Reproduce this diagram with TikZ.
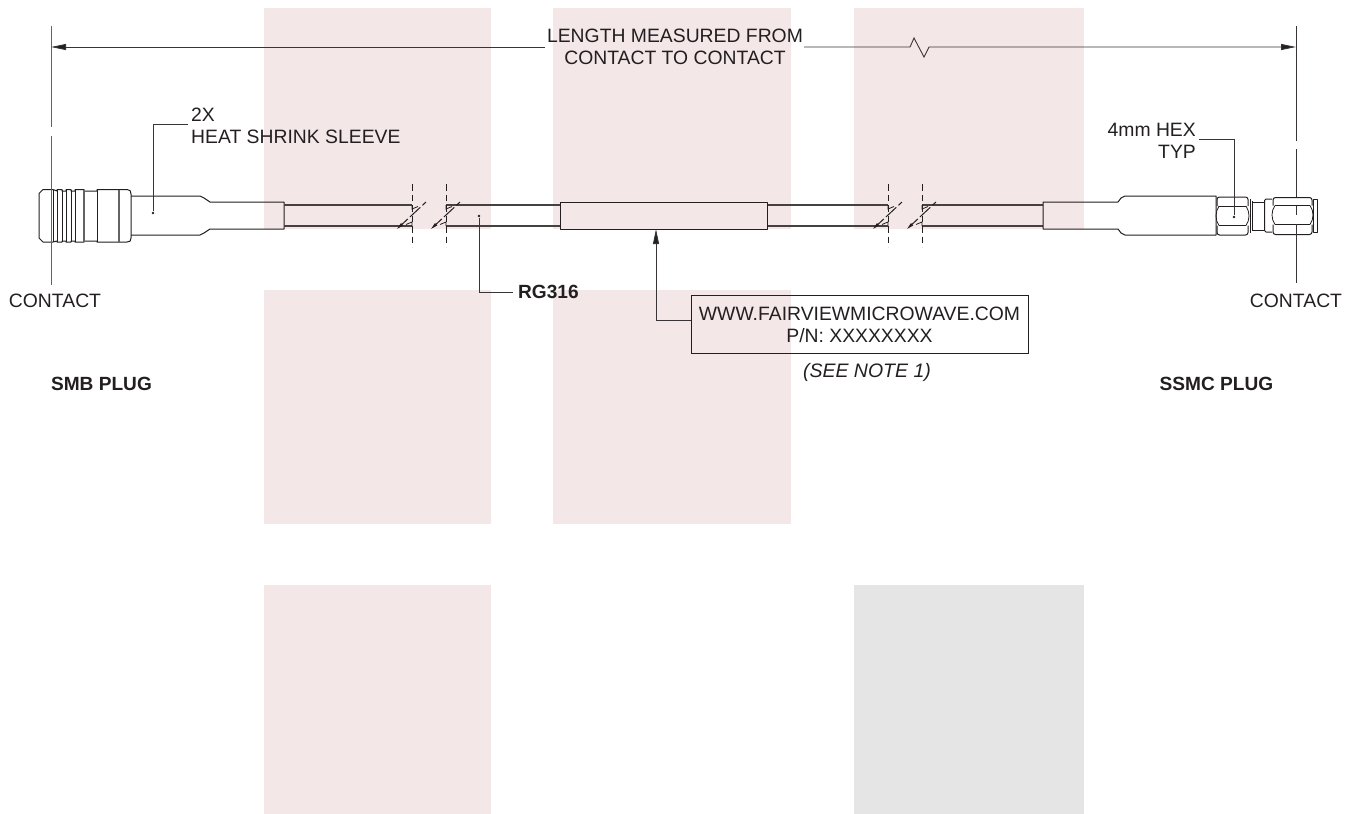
\documentclass[tikz,border=0pt]{standalone}
\usepackage{fontspec}
\setmainfont{Liberation Sans}
\usetikzlibrary{arrows.meta}
\definecolor{inkc}{HTML}{231F20}
\definecolor{pinkc}{HTML}{F4E7E8}
\definecolor{greyc}{HTML}{E5E5E5}
\tikzset{
  x=1pt,y=-1pt,
  part/.style={draw=inkc,line width=1pt,line join=round},
  thin part/.style={draw=inkc,line width=0.8pt},
  cable/.style={draw=inkc!85,line width=1.1pt},
  dimline/.style={draw=inkc!90,line width=0.9pt},
  ext/.style={draw=inkc!70,line width=1pt},
  breakline/.style={draw=inkc,line width=0.9pt,dash pattern=on 6.5pt off 4pt},
  slash/.style={draw=inkc,line width=1pt,dash pattern=on 8pt off 3pt on 14pt off 3pt},
  txt/.style={text=inkc,font=\fontsize{19.35}{22}\selectfont,inner sep=0pt,align=center},
  boldtxt/.style={text=inkc,font=\fontsize{19.1}{22}\selectfont\bfseries,inner sep=0pt},
  dotc/.style={circle,fill=inkc,inner sep=0pt,minimum size=2.8pt},
  tip/.style={-{Triangle[length=15pt,width=6pt,fill=inkc]}}
}
\begin{document}
\begin{tikzpicture}
\useasboundingbox (0,0) rectangle (1355,814);
% background blocks
\fill[pinkc] (264,8) rectangle (491,229);
\fill[pinkc] (264,290) rectangle (491,524);
\fill[pinkc] (553,8) rectangle (791,229);
\fill[pinkc] (553,290) rectangle (791,524);
\fill[pinkc] (854,8) rectangle (1084,229);
\fill[pinkc] (264,585) rectangle (491,814);
\fill[greyc] (854,585) rectangle (1084,814);

% --- anchors
\coordinate (dimL) at (51,47);
\coordinate (dimR) at (1296,47);
\coordinate (zz0) at (910,47);
\coordinate (zz1) at (914,38);
\coordinate (zz2) at (924,57);
\coordinate (zz3) at (929,47);
\node[dotc] (dotSleeve) at (153,213) {};
\node[dotc] (dotCable) at (479,216) {};
\node[dotc] (dotHex) at (1234,217) {};
\coordinate (labelTarget) at (656,229);
\coordinate (sleeveLead) at (188,124);
\coordinate (hexLead) at (1199,139);
\coordinate (rgLead) at (513,292);
\coordinate (boxLead) at (691,320);

% --- texts
\node[txt] (title) at (675,47) {LENGTH MEASURED FROM\\CONTACT TO CONTACT};
\node[txt,anchor=west,align=left] (sleeve) at (191,126) {2X\\HEAT SHRINK SLEEVE};
\node[txt,anchor=east,align=right] (hex) at (1196,140.5) {4mm HEX\\TYP};
\node[txt] (contactL) at (55,300.5) {CONTACT};
\node[txt] (contactR) at (1296,300.5) {CONTACT};
\node[boldtxt,anchor=west] (rg) at (518,292) {RG316};
\node[draw=inkc,line width=0.9pt,minimum width=337pt,minimum height=58pt,txt] (box) at (859.5,324.5) {WWW.FAIRVIEWMICROWAVE.COM\\P/N: XXXXXXXX};
\node[txt,font=\fontsize{19.5}{22}\selectfont\itshape] (note) at (867,372.5) {(SEE NOTE 1)};
\node[boldtxt] (smb) at (101.5,383.5) {SMB PLUG};
\node[boldtxt] (ssmc) at (1216.5,383.5) {SSMC PLUG};

% --- dimension line
\coordinate (titleL) at (545,47);
\coordinate (titleR) at (804,47);
\draw[dimline,tip] (titleL) -- (dimL);
\draw[dimline,tip] (titleR) -- (zz0) -- (zz1) -- (zz2) -- (zz3) -- (dimR);

% --- SMB plug
\draw[part] (43,189.5) -- (53,189.5) -- (57,191) -- (57,189.5) -- (62,189.5) -- (62,191) -- (66,191) -- (66,189.5) -- (71,189.5) -- (71,191) -- (75,191) -- (75,189.5) -- (84,189.5) -- (84,191) -- (97,191) -- (97,189.5) -- (127,189.5) .. controls (130,189.5) and (131,191) .. (131,194) -- (131,238) .. controls (131,241) and (130,242) .. (127,242) -- (97,242) -- (97,241) -- (84,241) -- (84,242) -- (75,242) -- (75,241) -- (71,241) -- (71,242) -- (66,242) -- (66,241) -- (62,241) -- (62,242) -- (57,242) -- (57,241) -- (53,242) -- (43,242) -- (39,238) -- (39,193.5) -- cycle;
\foreach \xx in {53,57,62,66,71,75,97}{\draw[thin part] (\xx,190) -- (\xx,241.5);}
\draw[draw=inkc!70,line width=1.4pt] (84,190) -- (84,241.5) (119,190) -- (119,241.5);
% left sleeve
\draw[part] (131,196) -- (200,196) -- (204,198) -- (210,202) -- (284,202) -- (284,229) -- (210,229) -- (204,233) -- (200,235) -- (131,235);
% cable runs
\draw[cable] (284,205) -- (412,205) (284,226) -- (412,226);
\draw[cable] (446,205) -- (560,205) (446,226) -- (560,226);
\draw[cable] (767,205) -- (888,205) (767,226) -- (888,226);
\draw[cable] (922,205) -- (1043,205) (922,226) -- (1043,226);
% centre sleeve
\draw[part] (560,202) rectangle (767,229);
% right sleeve
\draw[part] (1043,202) -- (1118,202) -- (1121,198) -- (1125,196) -- (1216,196) -- (1216,235) -- (1125,235) -- (1121,233) -- (1118,229) -- (1043,229) -- cycle;
% breaks
\foreach \bx in {412,446,888,922}{
  \draw[breakline] (\bx,184) -- (\bx,247);
  \draw[thin part] (\bx,205) -- (\bx,209) -- (\bx+6,206.5);
  \draw[thin part] (\bx,226) -- (\bx,222) -- (\bx-6,224.5);
  \draw[slash,{Triangle[length=7pt,width=3pt,fill=inkc]}-] (\bx-15,229) -- (\bx+14,202);
}

% --- SSMC plug
% hex 1: three rounded rows
\draw[part,rounded corners=2.5pt] (1217,206) -- (1217,197) -- (1248,197) -- (1248,206);
\draw[part,rounded corners=2.5pt] (1217,225.5) -- (1217,235) -- (1248,235) -- (1248,225.5);
\draw[part] (1219,206) -- (1246,206);
\draw[draw=inkc,line width=1.5pt] (1219,225.5) -- (1246,225.5);
\draw[thin part] (1219,206) .. controls (1215,212) and (1215,220) .. (1219,225.5);
\draw[thin part] (1246,206) .. controls (1250,212) and (1250,220) .. (1246,225.5);
\draw[part] (1250.5,199) -- (1250.5,233);
\draw[part] (1252.5,201) -- (1252.5,231);
% neck
\draw[thin part] (1252,202) -- (1264,202) (1252,230) -- (1264,230);
% flange
\draw[part,rounded corners=1.5pt] (1272,199) -- (1264.5,199) -- (1264.5,232) -- (1272,232);
% hex 2
\draw[part,rounded corners=2.5pt] (1273,205.5) -- (1273,197.5) -- (1312,197.5) -- (1312,205.5);
\draw[part,rounded corners=2.5pt] (1273,224.5) -- (1273,234.5) -- (1312,234.5) -- (1312,224.5);
\draw[draw=inkc,line width=1.4pt] (1275,205.5) -- (1310,205.5) (1275,224.5) -- (1310,224.5);
\draw[thin part] (1275,205.5) .. controls (1271,211) and (1271,219) .. (1275,224.5);
\draw[thin part] (1310,205.5) .. controls (1314,211) and (1314,219) .. (1310,224.5);
% end
\draw[part] (1313,199) -- (1317,199) -- (1317,232) -- (1313,232) -- cycle;

% --- extension lines
\draw[ext] (51,26) -- (51,127);
\draw[ext] (51,136) -- (51,285);
\draw[dimline] (1296,26) -- (1296,141);
\draw[dimline] (1296,149) -- (1296,197);
\draw[dimline] (1296,206) -- (1296,215);
\draw[dimline] (1296,224) -- (1296,283);

% --- leaders
\draw[dimline] (dotSleeve) |- (sleeveLead);
\draw[dimline] (dotCable) |- (rgLead);
\draw[dimline] (dotHex) |- (hexLead);
\draw[dimline,tip] (boxLead) -| (labelTarget);
\end{tikzpicture}
\end{document}
